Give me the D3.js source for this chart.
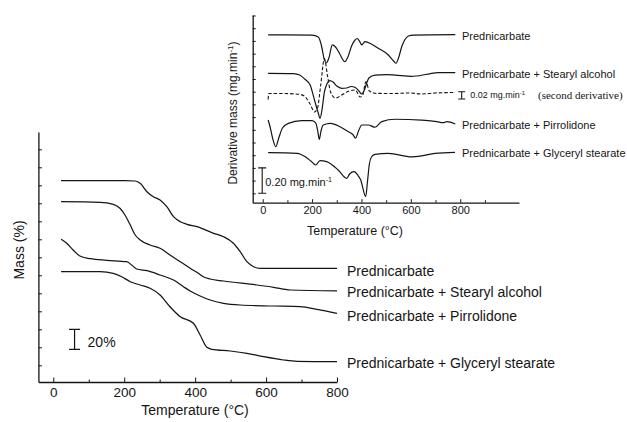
<!DOCTYPE html>
<html><head><meta charset="utf-8">
<script src="https://cdn.jsdelivr.net/npm/d3@7"></script>
<style>
html,body{margin:0;padding:0;background:#fff;}
svg{display:block;font-family:"Liberation Sans",Arial,Helvetica,sans-serif;}
</style></head>
<body><svg id="chart" width="627" height="422"></svg>
<script>
// ---------- DATA: main TGA chart (temperature °C, plotted mass % with vertical offsets) ----------
const tgaPred = [[22,201.5],[200,201.5],[231,201],[245,198.7],[264,190.3],[282,185.3],[301,182],[320,175.3],[339,165.3],[358,160.3],[377,157.7],[405,155.3],[452,148.7],[480,145.3],[508,138.7],[527,130.3],[546,120.3],[565,115.3],[583,113.7],[800,113.7]];
const tgaStearyl = [[22,180.3],[132,179.7],[169,177.7],[188,173.7],[202,167],[217,157],[231,147],[245,142],[273,137],[301,133.7],[329,127],[358,120.3],[386,113.7],[409,108.7],[423,105.3],[442,103],[480,101],[574,97],[621,94.7],[668,92],[800,91]];
const tgaPirro = [[22,142.7],[38,138.7],[56,132],[75,126],[104,123.3],[151,121.7],[207,120.3],[221,117],[235,113],[264,111.3],[301,107],[339,102],[367,95.3],[386,91],[414,86],[442,82],[480,78.7],[527,77],[621,76],[696,75.3],[744,72.7],[800,68.7]];
const tgaGlyc = [[22,110.3],[132,110.3],[169,108.7],[193,105.3],[217,100.3],[245,97],[273,93.7],[301,87],[329,75.3],[358,65.3],[395,58.7],[414,47],[433,34.7],[447,32.7],[499,31],[546,28.7],[593,25.3],[649,22],[687,20.7],[800,20.3]];
const mainSeriesNames = ["Prednicarbate","Prednicarbate + Stearyl alcohol","Prednicarbate + Pirrolidone","Prednicarbate + Glyceryl stearate"];
const mainXTicks = [0,200,400,600,800];
const mainXMinorTicks = [100,300,500,700];
const mainYTicks = d3.range(13).map(k => 16.7 + 18*k);

// ---------- DATA: inset DTG chart (temperature °C, derivative mass mg.min-1 with offsets) ----------
const dtgPred = [[22,1.348],[200,1.346],[225,1.331],[239,1.254],[248,1.165],[258,1.128],[268,1.165],[282,1.268],[295,1.252],[310,1.205],[333,1.136],[345,1.173],[360,1.260],[374,1.307],[382,1.319],[392,1.299],[401,1.268],[408,1.283],[414,1.294],[440,1.276],[468,1.242],[509,1.189],[530,1.142],[540,1.124],[550,1.165],[563,1.254],[575,1.307],[590,1.339],[610,1.346],[780,1.350]];
const dtgStearyl = [[22,1.045],[125,1.043],[150,1.031],[170,1.000],[192,0.953],[212,0.819],[225,0.732],[232,0.690],[240,0.756],[250,0.898],[260,0.961],[272,0.988],[285,0.976],[300,0.945],[320,0.927],[340,0.929],[358,0.941],[375,0.933],[390,0.905],[401,0.882],[410,0.905],[420,0.961],[430,1.008],[455,1.031],[500,1.035],[536,1.031],[603,1.020],[670,1.039],[711,1.051],[780,1.050]];
const d2tgStearyl = [[22,0.839],[24,0.886],[80,0.886],[150,0.879],[171,0.862],[192,0.803],[210,0.740],[222,0.772],[235,0.953],[250,1.161],[262,1.031],[275,0.898],[295,0.850],[320,0.874],[350,0.905],[375,0.913],[395,0.858],[405,0.874],[418,0.979],[432,0.905],[460,0.887],[520,0.886],[600,0.890],[640,0.882],[700,0.890],[780,0.894]];
const dtgPirro = [[22,0.677],[30,0.622],[40,0.535],[53,0.467],[65,0.535],[80,0.614],[104,0.651],[158,0.672],[200,0.673],[215,0.653],[223,0.590],[229,0.525],[236,0.590],[245,0.638],[275,0.650],[313,0.624],[347,0.585],[365,0.563],[376,0.535],[388,0.590],[401,0.638],[428,0.638],[455,0.620],[482,0.664],[536,0.683],[644,0.677],[705,0.664],[731,0.656],[745,0.664],[780,0.646]];
const dtgGlyc = [[22,0.420],[140,0.415],[171,0.390],[195,0.354],[215,0.323],[232,0.358],[259,0.349],[306,0.283],[340,0.218],[352,0.252],[370,0.270],[385,0.244],[397,0.205],[417,0.075],[425,0.205],[432,0.331],[441,0.388],[455,0.407],[509,0.415],[603,0.387],[644,0.394],[698,0.415],[779,0.423]];
const insetXTicks = [0,200,400,600,800];
const insetXMinorTicks = [100,300,500,700,900];
const insetYTicks = d3.range(1,16).map(k => k/10);

// ---------- DRAW ----------
const svg = d3.select("#chart");
const ink = "#151515";

function drawAxes(g, x, y, xTicks, xMinor, yTicks, fs, majLen, minLen, yLen, labelDy) {
  const xa = g.append("g").attr("transform", `translate(0,${y.range()[0]})`)
    .call(d3.axisBottom(x).tickValues(xTicks).tickSizeInner(-majLen).tickSizeOuter(0).tickPadding(labelDy).tickFormat(d3.format("d")));
  xa.select(".domain").attr("stroke", ink).attr("stroke-width", 1.3);
  xa.selectAll(".tick line").attr("stroke", ink).attr("stroke-width", 1);
  xa.selectAll("text").attr("fill", ink).attr("font-size", fs).attr("font-family", "Liberation Sans, Arial, sans-serif");
  const xm = g.append("g").attr("transform", `translate(0,${y.range()[0]})`)
    .call(d3.axisBottom(x).tickValues(xMinor).tickSizeInner(-minLen).tickSizeOuter(0).tickFormat(""));
  xm.select(".domain").remove();
  xm.selectAll(".tick line").attr("stroke", ink).attr("stroke-width", 1);
  const ya = g.append("g").attr("transform", `translate(${x.range()[0]},0)`)
    .call(d3.axisLeft(y).tickValues(yTicks).tickSizeInner(-yLen).tickSizeOuter(0).tickFormat(""));
  ya.select(".domain").attr("stroke", ink).attr("stroke-width", 1.3);
  ya.selectAll(".tick line").attr("stroke", ink).attr("stroke-width", 1);
}

// ---- main chart ----
const mx = d3.scaleLinear().domain([-42, 800]).range([38.4, 337]);
const my = d3.scaleLinear().domain([0, 250]).range([382, 132]);
const main = svg.append("g");
drawAxes(main, mx, my, mainXTicks, mainXMinorTicks, mainYTicks, "13.5px", 4.5, 2.5, 3.5, 5);

const mline = d3.line().x(d => mx(d[0])).y(d => my(d[1])).curve(d3.curveMonotoneX);
const mainSeries = [tgaPred, tgaStearyl, tgaPirro, tgaGlyc];
const mainLabelDy = [3, 1, 3, 1];
mainSeries.forEach((s, i) => {
  main.append("path").attr("d", mline(s)).attr("fill", "none").attr("stroke", ink).attr("stroke-width", 1.25);
  const last = s[s.length - 1];
  main.append("text").attr("x", mx(800) + 10).attr("y", my(last[1]) + mainLabelDy[i]).attr("dy", "0.35em")
    .attr("font-size", "14px").attr("fill", ink).text(mainSeriesNames[i]);
});
// 20% scale bar
const sbX = mx(60);
main.append("path").attr("d", `M${sbX},${my(52.7)}V${my(32.7)}M${sbX-5.5},${my(52.7)}H${sbX+5.5}M${sbX-5.5},${my(32.7)}H${sbX+5.5}`)
  .attr("stroke", ink).attr("stroke-width", 1.2).attr("fill", "none");
main.append("text").attr("x", sbX + 13).attr("y", my(40.3)).attr("dy", "0.35em").attr("font-size", "14px").attr("fill", ink).text("20%");
main.append("text").attr("x", 195).attr("y", 415).attr("text-anchor", "middle").attr("font-size", "14px").attr("fill", ink).text("Temperature (°C)");
main.append("text").attr("transform", "translate(24,250) rotate(-90)").attr("text-anchor", "middle").attr("font-size", "14px").attr("fill", ink).text("Mass (%)");

// ---- inset chart ----
const ix = d3.scaleLinear().domain([-40.5, 1038]).range([252.7, 519]);
const iy = d3.scaleLinear().domain([0.026, 1.504]).range([202.7, 15]);
const inset = svg.append("g");
drawAxes(inset, ix, iy, insetXTicks, insetXMinorTicks, insetYTicks, "11px", 3.5, 2.5, 3, 4);

const iline = d3.line().x(d => ix(d[0])).y(d => iy(d[1])).curve(d3.curveMonotoneX);
const insetSolid = [dtgPred, dtgStearyl, dtgPirro, dtgGlyc];
insetSolid.forEach((s, i) => {
  inset.append("path").attr("d", iline(s)).attr("fill", "none").attr("stroke", ink).attr("stroke-width", 1.2);
  const last = s[s.length - 1];
  inset.append("text").attr("x", ix(807)).attr("y", iy(last[1]) + 1.2).attr("dy", "0.35em")
    .attr("font-size", "11px").attr("fill", ink).text(mainSeriesNames[i]);
});
inset.append("path").attr("d", iline(d2tgStearyl)).attr("fill", "none").attr("stroke", ink)
  .attr("stroke-width", 1.1).attr("stroke-dasharray", "3.5,2");

// second-derivative scale bar
const s2x = ix(806);
inset.append("path").attr("d", `M${s2x},${iy(0.900)}V${iy(0.843)}M${s2x-3.5},${iy(0.900)}H${s2x+3.5}M${s2x-3.5},${iy(0.843)}H${s2x+3.5}`)
  .attr("stroke", ink).attr("stroke-width", 1.1).attr("fill", "none");
const t2 = inset.append("text").attr("x", s2x + 8.5).attr("y", iy(0.8715)).attr("dy", "0.35em").attr("font-size", "9px").attr("fill", ink);
t2.append("tspan").text("0.02 mg.min");
t2.append("tspan").attr("font-size", "6px").attr("dy", "-3.5").text("-1");
inset.append("text").attr("x", 538).attr("y", iy(0.8715)).attr("dy", "0.35em").attr("font-size", "11px")
  .attr("font-family", "Liberation Serif, Times New Roman, serif").attr("fill", ink).text("(second derivative)");

// 0.20 mg.min-1 scale bar
const s1x = ix(-2);
inset.append("path").attr("d", `M${s1x},${iy(0.3)}V${iy(0.1)}M${s1x-4},${iy(0.3)}H${s1x+4}M${s1x-4},${iy(0.1)}H${s1x+4}`)
  .attr("stroke", ink).attr("stroke-width", 1.1).attr("fill", "none");
const t1 = inset.append("text").attr("x", s1x + 3).attr("y", iy(0.19)).attr("dy", "0.35em").attr("font-size", "11px").attr("fill", ink);
t1.append("tspan").text("0.20 mg.min");
t1.append("tspan").attr("font-size", "7px").attr("dy", "-4").text("-1");

inset.append("text").attr("x", 355).attr("y", 235).attr("text-anchor", "middle").attr("font-size", "12.5px").attr("fill", ink).text("Temperature (°C)");
const yl = inset.append("text").attr("transform", "translate(237,113) rotate(-90)").attr("text-anchor", "middle").attr("font-size", "12px").attr("fill", ink);
yl.append("tspan").text("Derivative mass (mg.min");
yl.append("tspan").attr("font-size", "8px").attr("dy", "-4").text("-1");
yl.append("tspan").attr("dy", "4").text(")");
</script></body></html>
